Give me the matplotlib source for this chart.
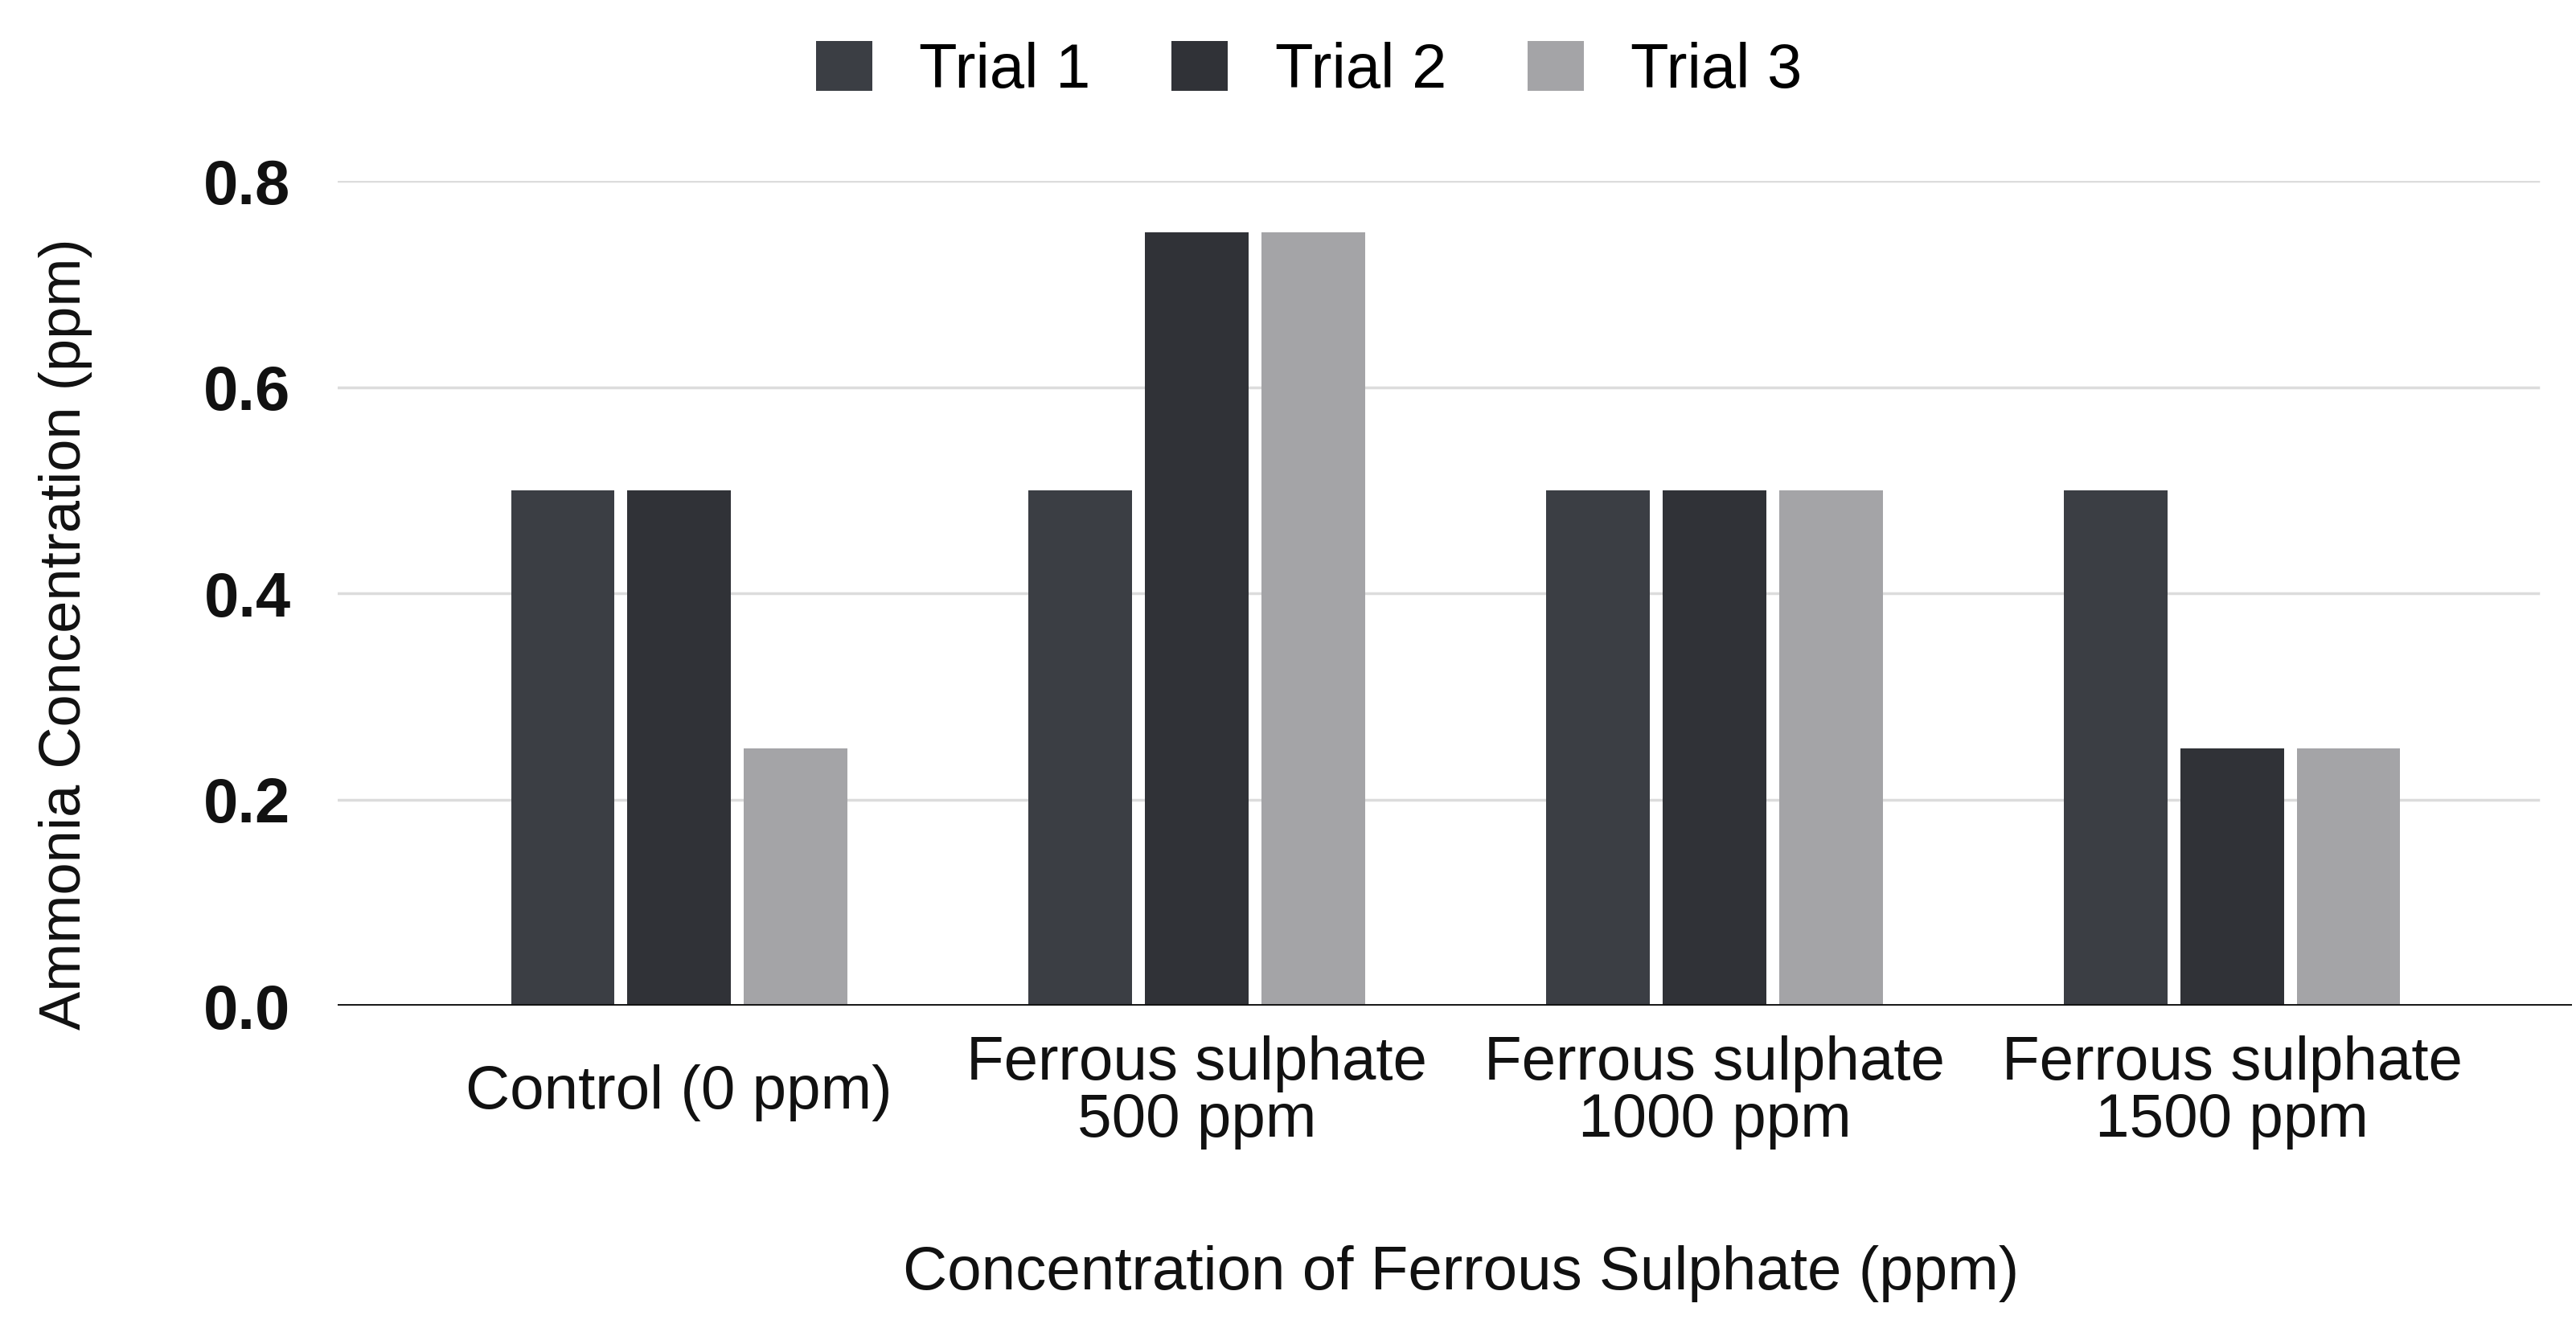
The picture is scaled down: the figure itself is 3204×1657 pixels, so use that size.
import matplotlib
matplotlib.use("Agg")
import matplotlib.pyplot as plt
import numpy as np

categories = ["Control (0 ppm)", "Ferrous sulphate\n500 ppm", "Ferrous sulphate\n1000 ppm", "Ferrous sulphate\n1500 ppm"]
series_names = ["Trial 1", "Trial 2", "Trial 3"]
trial1 = [0.5, 0.5, 0.5, 0.5]
trial2 = [0.5, 0.75, 0.5, 0.25]
trial3 = [0.25, 0.75, 0.5, 0.25]
yticks = [0.0, 0.2, 0.4, 0.6, 0.8]
colors = ["#3b3e44", "#303237", "#a4a4a7"]

plt.rcParams['font.family'] = ['Liberation Sans', 'DejaVu Sans']

fig = plt.figure(figsize=(32.05, 16.57), dpi=100)
ax = fig.add_axes([0.131, 0.245, 0.867, 0.619])

x = np.arange(len(categories))
width = 0.2
offsets = [-0.225, 0.0, 0.225]
bars = []
for vals, off, c, name in zip([trial1, trial2, trial3], offsets, colors, series_names):
    b = ax.bar(x + off, vals, width, color=c, label=name, zorder=3)
    bars.append(b)

ax.set_xlim(-0.66, 3.656)
ax.set_ylim(0, 0.8)
ax.set_yticks(yticks)
ax.set_yticklabels([f"{t:.1f}" for t in yticks], fontsize=56, fontweight='bold', color="#111111")
ax.set_xticks(x)
ax.set_xticklabels(categories, fontsize=55, va='center', linespacing=1.0, color="#111111")
ax.tick_params(axis='x', length=0, pad=78)
ax.tick_params(axis='y', length=0, pad=42)

for t in yticks[1:]:
    ax.axhline(t, color="#dcdcdc", lw=2.5, zorder=1, xmax=0.985)
ax.axhline(0, color="#111111", lw=3.5, zorder=4)

for s in ax.spines.values():
    s.set_visible(False)

fig.text(0.567, 0.044, "Concentration of Ferrous Sulphate (ppm)", fontsize=55,
         ha='center', va='center', color="#111111")
fig.text(0.0255, 0.524, "Ammonia Concentration (ppm)", fontsize=52, rotation=90,
         ha='center', va='center', color="#111111")

fig.legend(handles=bars, labels=series_names, loc='center', bbox_to_anchor=(0.508, 0.947),
           ncol=3, frameon=False, fontsize=56, handlelength=0.9, handleheight=0.85,
           handletextpad=0.75, columnspacing=1.3)

fig.savefig("out.png", dpi=100, facecolor="white")
